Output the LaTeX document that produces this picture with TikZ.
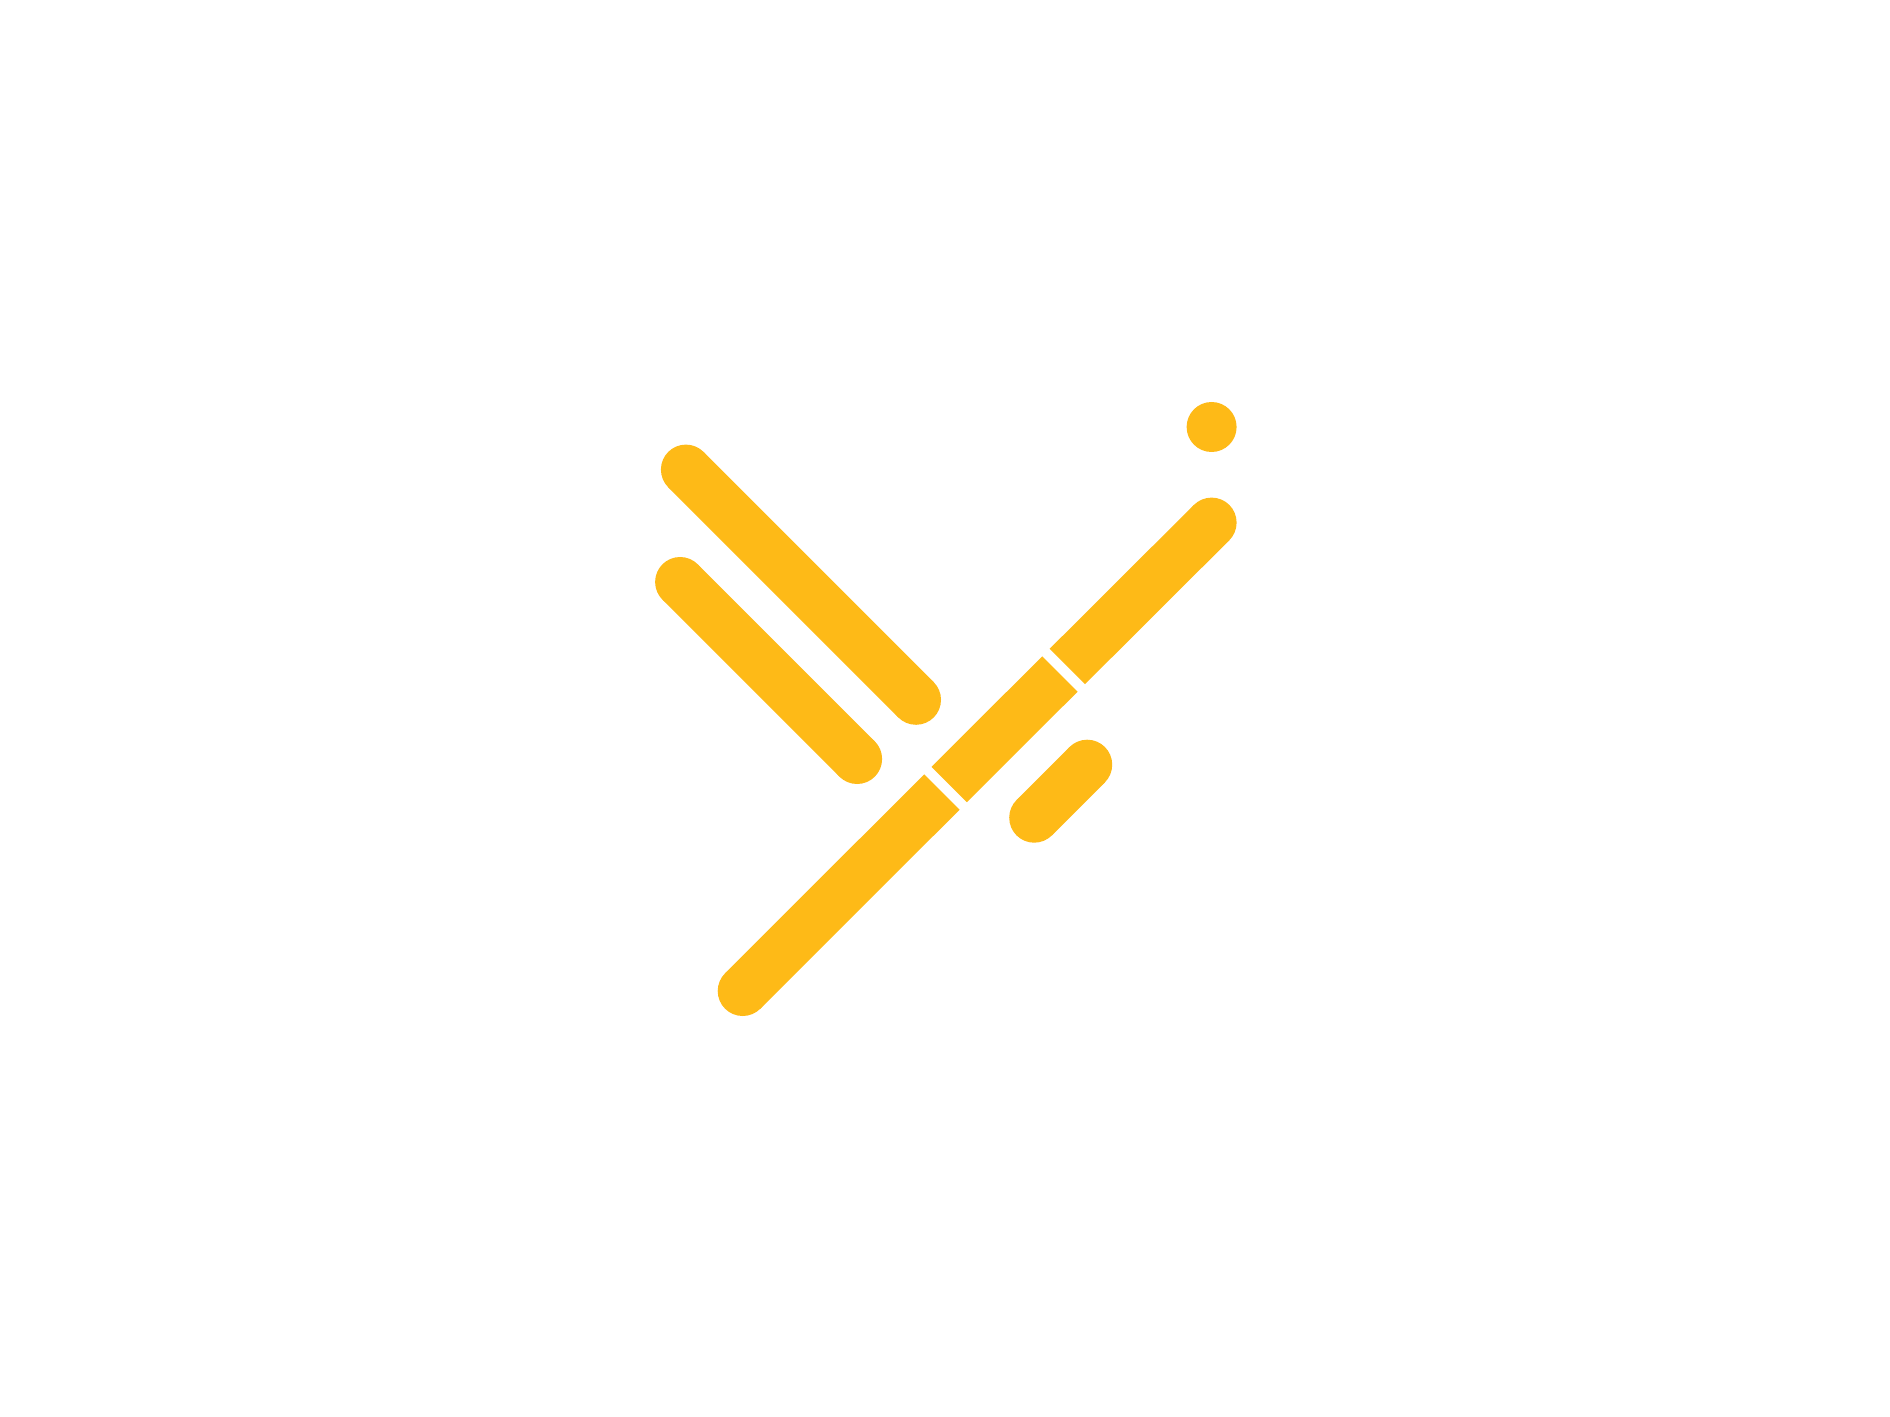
\documentclass[tikz,border=0pt]{standalone}
\definecolor{barcolor}{HTML}{FEBA17}

\begin{document}
\begin{tikzpicture}[
				x=0.1mm, y=-0.1mm,
				bar/.style={draw=barcolor, line width=5mm},
				dot/.style={circle, fill=barcolor, inner sep=0pt, minimum size=5mm}
			]
			\useasboundingbox (0,0) rectangle (1890,1417);
			\node[dot] (point) at (1211.6,427) {};
			\node[dot] (lefttop) at (685.9,469.6) {};
			\node[dot] (leftend) at (916,699.8) {};
			\node[dot] (innertop) at (680.1,582) {};
			\node[dot] (innerend) at (857.1,759) {};
			\node[dot] (stemtop) at (1211.6,522.6) {};
			\node[dot] (stemend) at (742.7,991) {};
			\node[dot] (shorttop) at (1087.2,764.7) {};
			\node[dot] (shortend) at (1034.2,817.7) {};
			\coordinate (cuta) at (1067.3,666.5);
			\coordinate (cutb) at (1059.9,674);
			\coordinate (cutc) at (949.2,784.5);
			\coordinate (cutd) at (941.9,792);
			\draw[bar] (lefttop.center) -- (leftend.center);
			\draw[bar] (innertop.center) -- (innerend.center);
			\draw[bar] (shorttop.center) -- (shortend.center);
			\draw[bar] (stemtop.center) -- (cuta);
			\draw[bar] (cutb) -- (cutc);
			\draw[bar] (cutd) -- (stemend.center);
\end{tikzpicture}
\end{document}
